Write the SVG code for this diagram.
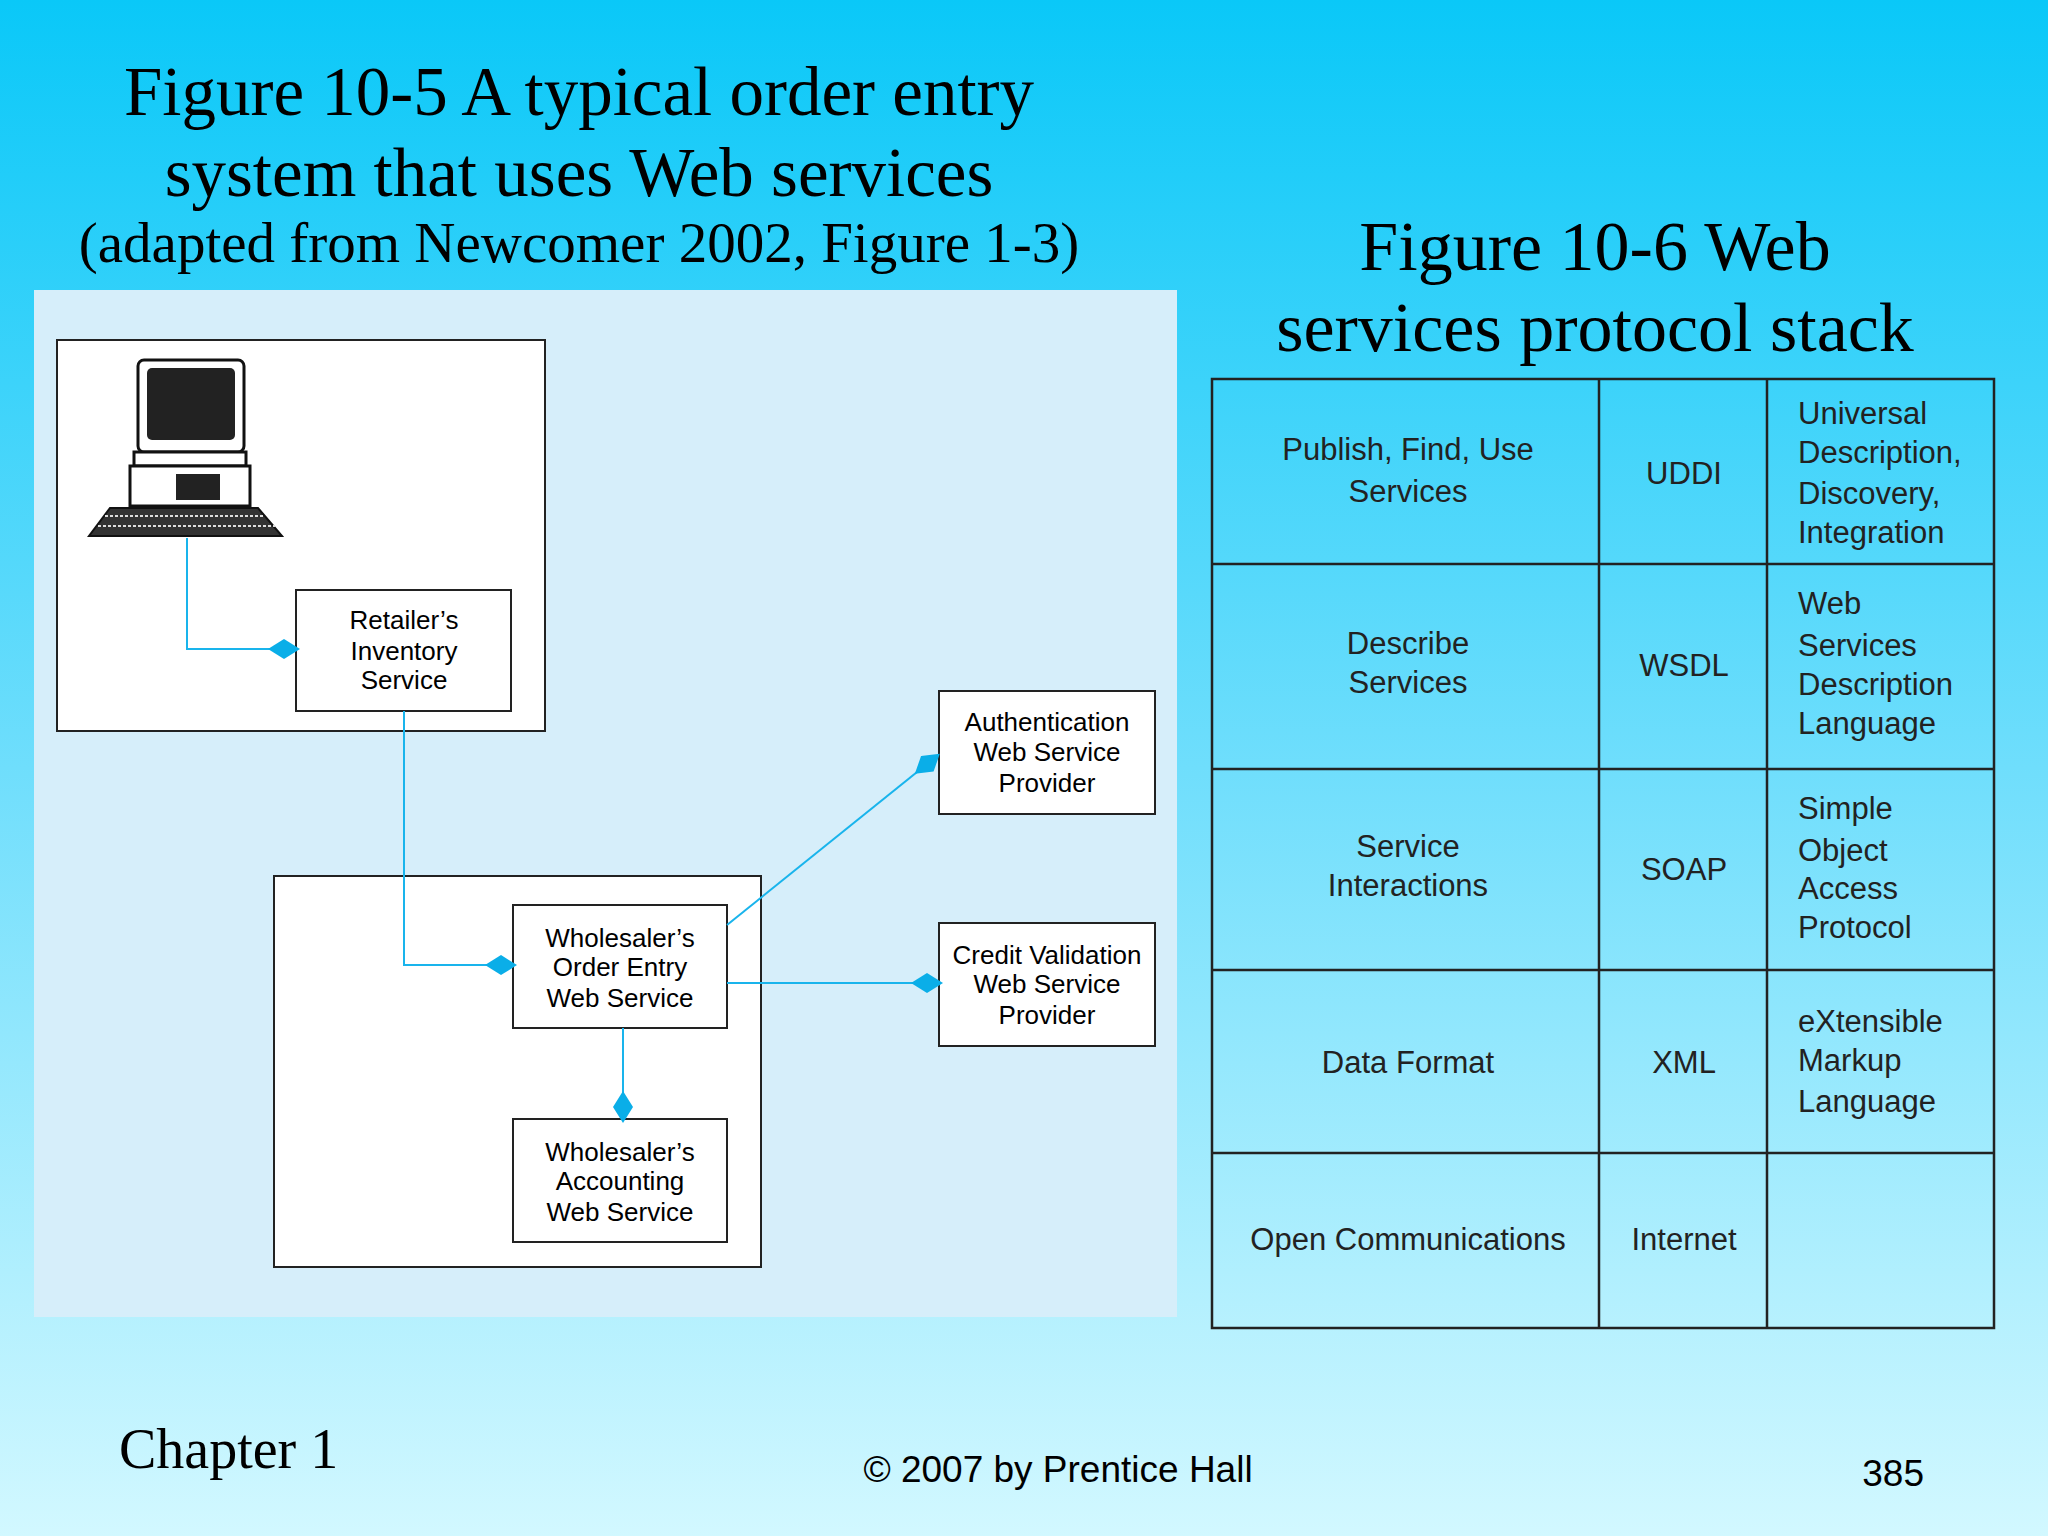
<svg xmlns="http://www.w3.org/2000/svg" width="2048" height="1536" viewBox="0 0 2048 1536">
<defs>
<linearGradient id="bg" x1="0" y1="0" x2="0" y2="1">
<stop offset="0" stop-color="#0ac8f8"/><stop offset="0.5" stop-color="#6fdefc"/><stop offset="1" stop-color="#d2f8ff"/>
</linearGradient>
<marker id="dia" viewBox="-16 -10 32 20" markerWidth="32" markerHeight="20" refX="6" refY="0" markerUnits="userSpaceOnUse" orient="auto"><path d="M-16 0 L0 -10 L16 0 L0 10 Z" fill="#0aaee8"/></marker>
</defs>
<style>
.t{font-family:"Liberation Serif",serif;fill:#000}
.s{font-family:"Liberation Sans",Arial,sans-serif;fill:#000;font-size:26px;text-anchor:middle}
.tb{font-family:"Liberation Sans",Arial,sans-serif;fill:#222;font-size:31px}
.box{fill:#fff;stroke:#222;stroke-width:2}
.c{fill:none;stroke:#19b4ec;stroke-width:2}
.g{stroke:#222;stroke-width:2.5;fill:none}
</style>
<rect width="2048" height="1536" fill="url(#bg)"/>
<text class="t" x="579" y="115" font-size="69" text-anchor="middle">Figure 10-5 A typical order entry</text>
<text class="t" x="579" y="196" font-size="69" text-anchor="middle">system that uses Web services</text>
<text class="t" x="579" y="262" font-size="57" text-anchor="middle">(adapted from Newcomer 2002, Figure 1-3)</text>
<text class="t" x="1595" y="270" font-size="70" text-anchor="middle">Figure 10-6 Web</text>
<text class="t" x="1595" y="351" font-size="70" text-anchor="middle">services protocol stack</text>
<rect x="34" y="290" width="1143" height="1027" fill="#d6eefa"/>
<g id="retailer-site"><rect class="box" x="57" y="340" width="488" height="391"/></g>
<g id="computer">
<rect x="138" y="360" width="106" height="92" rx="6" fill="#fff" stroke="#111" stroke-width="3"/>
<rect x="147" y="368" width="88" height="72" rx="5" fill="#222"/>
<rect x="134" y="452" width="112" height="14" fill="#fff" stroke="#111" stroke-width="3"/>
<rect x="130" y="466" width="120" height="40" fill="#fff" stroke="#111" stroke-width="3"/>
<rect x="176" y="474" width="44" height="26" fill="#222"/>
<path d="M110 508 L258 508 L282 536 L89 536 Z" fill="#333" stroke="#111" stroke-width="2"/>
<path d="M105 516 H265 M98 526 H275" stroke="#ddd" stroke-width="2" stroke-dasharray="3 2"/>
</g>
<g id="retailer-inventory"><rect class="box" x="296" y="590" width="215" height="121"/>
<text class="s" x="404" y="629">Retailer’s</text><text class="s" x="404" y="660">Inventory</text><text class="s" x="404" y="689">Service</text></g>
<g id="wholesaler-site"><rect class="box" x="274" y="876" width="487" height="391"/></g>
<g id="order-entry"><rect class="box" x="513" y="905" width="214" height="123"/>
<text class="s" x="620" y="947">Wholesaler’s</text><text class="s" x="620" y="976">Order Entry</text><text class="s" x="620" y="1007">Web Service</text></g>
<g id="accounting"><rect class="box" x="513" y="1119" width="214" height="123"/>
<text class="s" x="620" y="1161">Wholesaler’s</text><text class="s" x="620" y="1190">Accounting</text><text class="s" x="620" y="1221">Web Service</text></g>
<g id="auth"><rect class="box" x="939" y="691" width="216" height="123"/>
<text class="s" x="1047" y="731">Authentication</text><text class="s" x="1047" y="761">Web Service</text><text class="s" x="1047" y="792">Provider</text></g>
<g id="credit"><rect class="box" x="939" y="923" width="216" height="123"/>
<text class="s" x="1047" y="964">Credit Validation</text><text class="s" x="1047" y="993">Web Service</text><text class="s" x="1047" y="1024">Provider</text></g>
<g id="connectors">
<path class="c" d="M187 538 V649 H290" marker-end="url(#dia)"/>
<path class="c" d="M404 711 V965 H507" marker-end="url(#dia)"/>
<path class="c" d="M623 1028 V1113" marker-end="url(#dia)"/>
<path class="c" d="M727 925 L932 760" marker-end="url(#dia)"/>
<path class="c" d="M727 983 H933" marker-end="url(#dia)"/>
</g>
<g id="protocol-stack">
<rect x="1212" y="379" width="782" height="949" fill="none" stroke="#222" stroke-width="2.5"/>
<path class="g" d="M1599 379 V1328 M1767 379 V1328 M1212 564 H1994 M1212 769 H1994 M1212 970 H1994 M1212 1153 H1994"/>
<g class="tb" text-anchor="middle">
<text x="1408" y="460">Publish, Find, Use</text><text x="1408" y="502">Services</text><text x="1684" y="484">UDDI</text>
<text x="1408" y="654">Describe</text><text x="1408" y="693">Services</text><text x="1684" y="676">WSDL</text>
<text x="1408" y="857">Service</text><text x="1408" y="896">Interactions</text><text x="1684" y="880">SOAP</text>
<text x="1408" y="1073">Data Format</text><text x="1684" y="1073">XML</text>
<text x="1408" y="1250">Open Communications</text><text x="1684" y="1250">Internet</text>
</g>
<g class="tb">
<text x="1798" y="424">Universal</text><text x="1798" y="463">Description,</text><text x="1798" y="504">Discovery,</text><text x="1798" y="543">Integration</text>
<text x="1798" y="614">Web</text><text x="1798" y="656">Services</text><text x="1798" y="695">Description</text><text x="1798" y="734">Language</text>
<text x="1798" y="819">Simple</text><text x="1798" y="861">Object</text><text x="1798" y="899">Access</text><text x="1798" y="938">Protocol</text>
<text x="1798" y="1032">eXtensible</text><text x="1798" y="1071">Markup</text><text x="1798" y="1112">Language</text>
</g>
</g>
<text class="t" x="119" y="1468" font-size="56">Chapter 1</text>
<text x="1058" y="1482" font-family="Liberation Sans, Arial, sans-serif" font-size="37" text-anchor="middle">© 2007 by Prentice Hall</text>
<text x="1924" y="1486" font-family="Liberation Sans, Arial, sans-serif" font-size="37" text-anchor="end">385</text>
</svg>
